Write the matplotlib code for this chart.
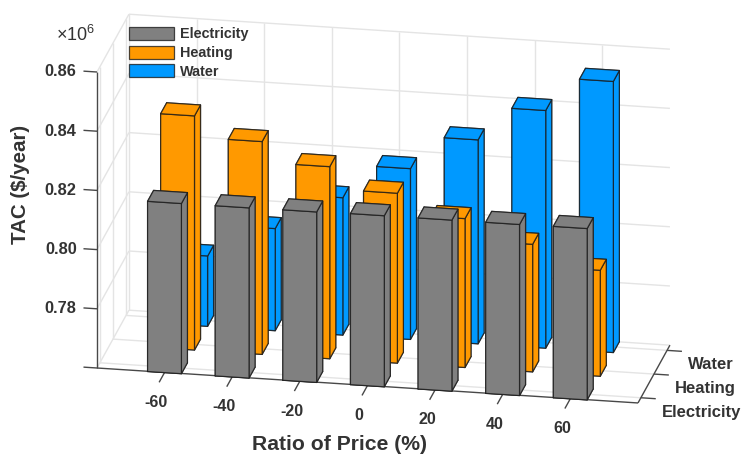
import numpy as np
import matplotlib
matplotlib.use('Agg')
import matplotlib.pyplot as plt
from matplotlib.patches import Patch
from mpl_toolkits.mplot3d import proj3d

plt.rcParams['font.family'] = ['Liberation Sans', 'DejaVu Sans']
plt.rcParams['mathtext.default'] = 'regular'

# valores
ratios = [-60, -40, -20, 0, 20, 40, 60]
series_names = ['Electricity', 'Heating', 'Water']
electricity = [0.8175, 0.8175, 0.8176, 0.8178, 0.8178, 0.8178, 0.8179]
heating = [0.8391, 0.8319, 0.8249, 0.8174, 0.8103, 0.8031, 0.7958]
water = [0.7837, 0.7945, 0.8064, 0.8177, 0.8289, 0.8403, 0.8516]
z_ticks = [0.76, 0.78, 0.80, 0.82, 0.84, 0.86]

colors = ['#808080', '#FF9900', '#0099FF']
edge = (0.1, 0.1, 0.1, 0.78)
grid_color = '#e4e4e4'
axis_color = '#484848'
text_color = '#333333'

W, H = 741, 457
XMIN, XMAX = 0, 8
YMIN, YMAX = 0.78, 3.22
ZMIN, ZMAX = 0.76, 0.86
BAR_W = 0.5
BAR_D = 0.46

fig = plt.figure(figsize=(W / 100, H / 100), dpi=100)
ax = fig.add_axes([0, 0, 1, 1], projection='3d')
ax.set_proj_type('ortho')
ax.view_init(elev=20, azim=-79.3)
ax.set_box_aspect((550.6, 172, 315))
ax.set_xlim(XMIN, XMAX, view_margin=0)
ax.set_ylim(YMIN, YMAX, view_margin=0)
ax.set_zlim(ZMIN, ZMAX, view_margin=0)
ax.set_axis_off()
ax.computed_zorder = False


def to_pixels(x, y, z):
    xs, ys, _ = proj3d.proj_transform(x, y, z, ax.get_proj())
    return ax.transData.transform((xs, ys))


def place_axes(size, left, bottom):
    ax.set_position([left / W, bottom / H, size / W, size / H])
    fig.canvas.draw()


# ajustar el cubo para que caiga en los pixeles del original
size = 700.0
place_axes(size, 20, -120)
p0 = to_pixels(XMIN, YMIN, ZMIN)
p1 = to_pixels(XMAX, YMIN, ZMIN)
size *= 541.0 / (p1[0] - p0[0])
place_axes(size, 20, -120)
p0 = to_pixels(XMIN, YMIN, ZMIN)
place_axes(size, 20 + 97 - p0[0], -120 + (H - 368) - p0[1])


def line(xs, ys, zs, color=grid_color, lw=1.0, z=1):
    ax.plot(xs, ys, zs, color=color, lw=lw, zorder=z, solid_capstyle='butt')


def label(x, y, z, s, **kw):
    # texto en coordenadas de figura, en el punto proyectado
    px, py = to_pixels(x, y, z)
    fig.text(px / W, py / H, s, va='center', fontweight='bold',
             color=text_color, **kw)


x_pos = np.arange(1, len(ratios) + 1)
y_pos = np.arange(1, len(series_names) + 1)

# grid: pared del fondo, pared izquierda y suelo
for x in x_pos:
    line([x, x], [YMAX, YMAX], [ZMIN, ZMAX])
    line([x, x], [YMIN, YMAX], [ZMIN, ZMIN])
for y in y_pos:
    line([XMIN, XMIN], [y, y], [ZMIN, ZMAX])
    line([XMIN, XMAX], [y, y], [ZMIN, ZMIN])
for zt in z_ticks:
    line([XMIN, XMAX], [YMAX, YMAX], [zt, zt])
    line([XMIN, XMIN], [YMIN, YMAX], [zt, zt])
line([XMIN, XMIN], [YMAX, YMAX], [ZMIN, ZMAX])
line([XMAX, XMAX], [YMIN, YMAX], [ZMIN, ZMIN], color=axis_color, z=2)

# ejes y marcas
line([XMIN, XMIN], [YMIN, YMIN], [ZMIN, ZMAX], color=axis_color, z=2)
line([XMIN, XMAX], [YMIN, YMIN], [ZMIN, ZMIN], color=axis_color, z=2)
for zt in z_ticks:
    line([XMIN - 0.2, XMIN], [YMIN, YMIN], [zt, zt], color=axis_color, z=2)
    if zt > ZMIN:
        label(XMIN - 0.3, YMIN, zt - 0.0004, f'{zt:.2f}', ha='right', fontsize=11.8)
for x, r in zip(x_pos, ratios):
    line([x, x], [YMIN - 0.42, YMIN], [ZMIN, ZMIN], color=axis_color, z=2)
    label(x + 0.12, YMIN - 1.25, ZMIN, str(r), ha='center', fontsize=11.5)
for y, name in zip(y_pos, series_names):
    line([XMAX, XMAX + 0.22], [y, y], [ZMIN, ZMIN], color=axis_color, z=2)
    label(XMAX + 0.31, y, ZMIN - 0.0044, name, ha='left', fontsize=12)

# barras, de atras hacia adelante
all_values = [electricity, heating, water]
order = 10
for row in [2, 1, 0]:
    for i, x in enumerate(x_pos):
        ax.bar3d(x - BAR_W / 2, y_pos[row] - BAR_D / 2, ZMIN, BAR_W, BAR_D,
                 all_values[row][i] - ZMIN, color=colors[row], edgecolor=edge,
                 linewidth=0.9, shade=False, zorder=order)
        order += 1

handles = [Patch(facecolor=c, edgecolor=edge, linewidth=0.9) for c in colors]
fig.legend(handles, series_names, loc='upper left',
           bbox_to_anchor=(129 / W, 1 - 27 / H), frameon=False,
           handlelength=3.1, handleheight=1.0, handletextpad=0.4,
           labelspacing=0.3, borderpad=0, borderaxespad=0,
           prop={'family': ['Liberation Sans'], 'weight': 'bold', 'size': 10.4},
           labelcolor=text_color)

fig.text(340 / W, 1 - 445 / H, 'Ratio of Price (%)', ha='center', va='center',
         fontsize=15.2, fontweight='bold', color=text_color)
fig.text(21 / W, 1 - 184.5 / H, 'TAC ($/year)', ha='center', va='center',
         rotation=90, fontsize=14.8, fontweight='bold', color=text_color)
fig.text(76 / W, 1 - 35 / H, r'$\times 10^{6}$', ha='center', va='center',
         fontsize=13, color=text_color)

fig.savefig('out.png', dpi=100)
plt.close(fig)
